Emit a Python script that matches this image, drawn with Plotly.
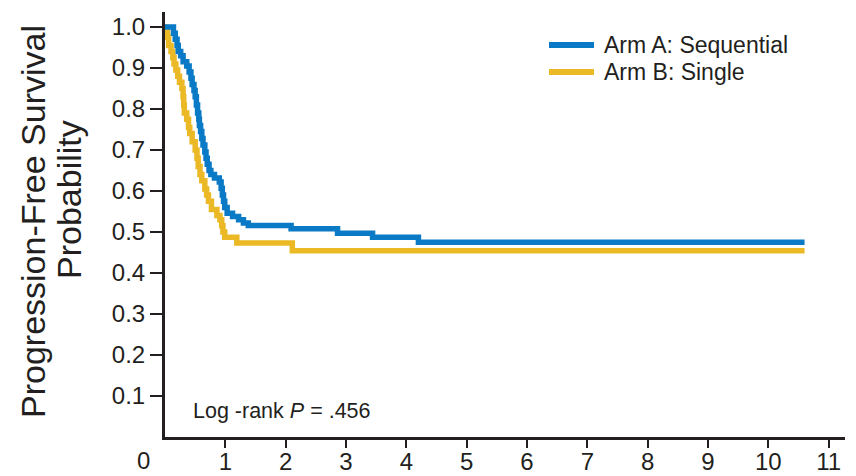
import plotly.graph_objects as go

# ---- data ----
arm_a_time = [0, 0.14, 0.17, 0.20, 0.22, 0.26, 0.30, 0.36, 0.40, 0.43, 0.45, 0.48, 0.50,
              0.52, 0.54, 0.56, 0.57, 0.59, 0.61, 0.63, 0.66, 0.68, 0.70, 0.73, 0.76,
              0.82, 0.90, 0.93, 0.95, 0.97, 0.99, 1.03, 1.12, 1.22, 1.30, 1.38, 2.09,
              2.86, 3.44, 4.20, 10.6]
arm_a_surv = [1.0, 0.985, 0.97, 0.955, 0.94, 0.93, 0.915, 0.905, 0.89, 0.875, 0.86, 0.845,
              0.83, 0.81, 0.79, 0.775, 0.76, 0.745, 0.728, 0.712, 0.695, 0.68, 0.665,
              0.65, 0.64, 0.632, 0.622, 0.607, 0.59, 0.575, 0.56, 0.546, 0.538, 0.53,
              0.522, 0.516, 0.508, 0.497, 0.487, 0.475, 0.475]

arm_b_time = [0, 0.01, 0.04, 0.06, 0.10, 0.13, 0.15, 0.18, 0.21, 0.24, 0.28, 0.30, 0.31,
              0.32, 0.36, 0.39, 0.41, 0.45, 0.50, 0.53, 0.55, 0.58, 0.61, 0.66, 0.69,
              0.72, 0.77, 0.86, 0.91, 0.94, 0.96, 0.99, 1.19, 2.11, 10.6]
arm_b_surv = [1.0, 0.99, 0.975, 0.955, 0.94, 0.925, 0.91, 0.895, 0.88, 0.865, 0.85, 0.83,
              0.81, 0.79, 0.775, 0.755, 0.74, 0.72, 0.70, 0.68, 0.66, 0.64, 0.625, 0.605,
              0.59, 0.575, 0.555, 0.54, 0.53, 0.515, 0.50, 0.487, 0.473, 0.454, 0.454]

x_ticks = [1, 2, 3, 4, 5, 6, 7, 8, 9, 10, 11]
y_ticks = [0.1, 0.2, 0.3, 0.4, 0.5, 0.6, 0.7, 0.8, 0.9, 1.0]
y_tick_labels = ["0.1", "0.2", "0.3", "0.4", "0.5", "0.6", "0.7", "0.8", "0.9", "1.0"]

series_names = ["Arm A: Sequential", "Arm B: Single"]
p_value_text = "Log -rank <i>P</i> = .456"

BLUE = "#0a7ac6"
YELLOW = "#ebb925"
INK = "#231f20"
SANS = "Liberation Sans, Arial, sans-serif"

# the page body has an 8px default margin; plot box target (page px): x 165..845, y 12..437
OFF = 8
PL, PR, PT, PB = 165 - OFF, 845 - OFF, 12 - OFF, 437 - OFF
W, H = 856, 476

fig = go.Figure()
fig.add_trace(go.Scatter(x=arm_b_time, y=arm_b_surv, mode="lines", name=series_names[1],
                         line=dict(shape="hv", color=YELLOW, width=5.5), showlegend=False))
fig.add_trace(go.Scatter(x=arm_a_time, y=arm_a_surv, mode="lines", name=series_names[0],
                         line=dict(shape="hv", color=BLUE, width=5.5), showlegend=False))

fig.update_layout(
    width=W, height=H,
    margin=dict(l=PL, r=W - PR, t=PT, b=H - PB, autoexpand=False),
    paper_bgcolor="white", plot_bgcolor="white",
    showlegend=False,
)
fig.update_xaxes(range=[0, 11.27], tickvals=x_ticks, ticktext=[str(v) for v in x_ticks],
                 automargin=False,
                 showgrid=False, zeroline=False, showline=True, linecolor=INK, linewidth=3,
                 ticks="outside", ticklen=8, tickwidth=2, tickcolor=INK,
                 ticklabelstandoff=-7,
                 tickfont=dict(family=SANS, size=24, color=INK))
fig.update_yaxes(range=[0, 1.0366], tickvals=y_ticks, ticktext=y_tick_labels,
                 automargin=False,
                 showgrid=False, zeroline=False, showline=True, linecolor=INK, linewidth=3,
                 ticks="outside", ticklen=12, tickwidth=2, tickcolor=INK,
                 tickfont=dict(family=SANS, size=24, color=INK))


def px_x(p):
    """page pixel x -> paper coordinate"""
    return (p - OFF - PL) / float(PR - PL)


def px_y(p):
    """page pixel y -> paper coordinate"""
    return (PB - (p - OFF)) / float(PB - PT)


legend_rows = [(series_names[0], BLUE, 45), (series_names[1], YELLOW, 72)]
shapes = []
annos = []
for name, col, ypx in legend_rows:
    shapes.append(dict(type="line", xref="paper", yref="paper",
                       x0=px_x(549), x1=px_x(594), y0=px_y(ypx), y1=px_y(ypx),
                       line=dict(color=col, width=6)))
    annos.append(dict(text=name, x=px_x(602), y=px_y(ypx), xref="paper", yref="paper",
                      xanchor="left", yanchor="middle", showarrow=False,
                      font=dict(family=SANS, size=23, color=INK)))

annos += [
    dict(text="0", x=px_x(143), y=px_y(461), xref="paper", yref="paper", xanchor="center",
         yanchor="middle", showarrow=False, font=dict(family=SANS, size=24, color=INK)),
    dict(text="Progression-Free Survival", x=px_x(33), y=px_y(222), xref="paper", yref="paper",
         xanchor="center", yanchor="middle", textangle=-90, showarrow=False,
         font=dict(family=SANS, size=34, color=INK)),
    dict(text="Probability", x=px_x(69), y=px_y(200), xref="paper", yref="paper",
         xanchor="center", yanchor="middle", textangle=-90, showarrow=False,
         font=dict(family=SANS, size=34, color=INK)),
    dict(text=p_value_text, x=px_x(191), y=px_y(411), xref="paper", yref="paper",
         xanchor="left", yanchor="middle", showarrow=False,
         font=dict(family=SANS, size=21.5, color=INK)),
]
fig.update_layout(annotations=annos, shapes=shapes)

fig.write_html("out.html")
